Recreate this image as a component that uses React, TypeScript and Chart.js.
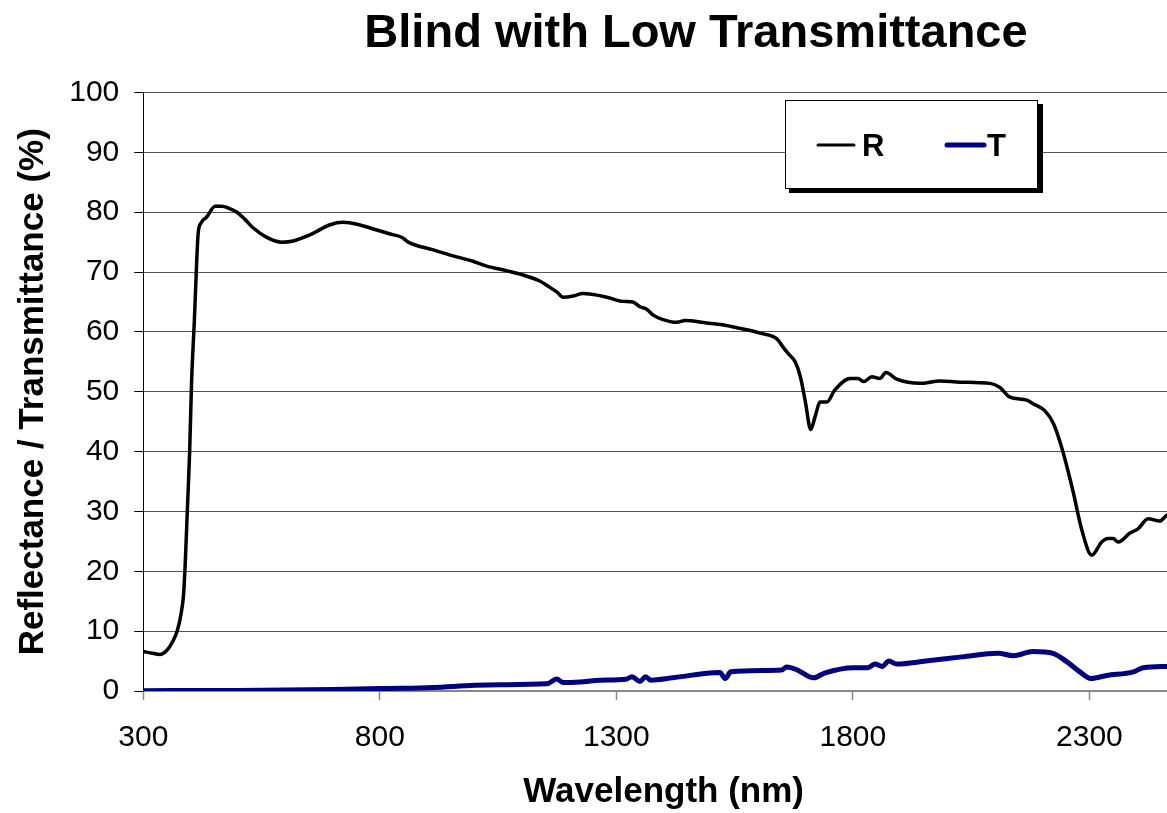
import React, { useEffect, useRef } from 'react';
import { Chart, registerables } from 'chart.js';

Chart.register(...registerables);

const chartTitle = 'Blind with Low Transmittance';
const xAxisTitle = 'Wavelength (nm)';
const yAxisTitle = 'Reflectance / Transmittance (%)';
const seriesNames = ['R', 'T'];
const xTicks = [300, 800, 1300, 1800, 2300];
const yTicks = [0, 10, 20, 30, 40, 50, 60, 70, 80, 90, 100];

const rWavelength = [
  300, 320, 335, 350, 361, 372, 380, 385, 389, 393, 398, 402, 408, 413, 416, 422, 434, 452, 466, 480,
  498, 515, 532, 561, 593, 617, 652, 695, 722, 752, 786, 820, 849, 855, 860, 913, 955, 997, 1026, 1069,
  1103, 1138, 1160, 1174, 1187, 1209, 1229, 1280, 1314, 1335, 1350, 1364, 1378, 1397, 1428, 1445, 1491,
  1524, 1561, 1604, 1640, 1652, 1663, 1678, 1689, 1699, 1711, 1720, 1731, 1745, 1762, 1794, 1811, 1823,
  1840, 1857, 1870, 1893, 1942, 1984, 2027, 2090, 2111, 2132, 2168, 2181, 2206, 2224, 2241, 2265, 2284,
  2305, 2326, 2339, 2350, 2361, 2386, 2403, 2424, 2449, 2465, 2500,
];
const rValues = [
  6.6, 6.3, 6.1, 6.8, 8.1, 10.1, 13.0, 16.0, 22, 30, 40, 51.5, 62, 72, 76.5, 78.2, 79.2, 81.0, 81.0, 80.7,
  80.0, 78.8, 77.4, 75.8, 75.0, 75.2, 76.2, 77.9, 78.3, 78.0, 77.2, 76.4, 75.7, 75.3, 75.0, 73.7, 72.7, 71.8, 71.0, 70.2,
  69.5, 68.5, 67.4, 66.7, 65.8, 66.0, 66.4, 65.8, 65.1, 65.0, 64.2, 63.8, 62.8, 62.1, 61.6, 61.9, 61.5,
  61.2, 60.6, 59.8, 58.8, 57.5, 56.4, 55.0, 52.5, 48.6, 43.7, 45.8, 48.3, 48.3, 50.3, 52.2, 52.2, 51.7,
  52.5, 52.2, 53.2, 52.1, 51.4, 51.8, 51.6, 51.4, 50.7, 49.1, 48.6, 48.0, 46.8, 44.7, 40.8, 33.5, 26.9,
  22.7, 24.9, 25.5, 25.5, 24.9, 26.4, 27.1, 28.8, 28.4, 29.4, 29.6,
];

const tWavelength = [
  300, 500, 600, 700, 800, 843, 913, 1000, 1054, 1153, 1174, 1188, 1223, 1266, 1320, 1333, 1350, 1362,
  1373, 1419, 1519, 1530, 1542, 1649, 1660, 1683, 1717, 1740, 1801, 1832, 1847, 1862, 1876, 1893, 1954,
  2031, 2107, 2139, 2181, 2223, 2252, 2280, 2303, 2337, 2393, 2414, 2465, 2500,
];
const tValues = [
  0.05, 0.1, 0.15, 0.25, 0.4, 0.45, 0.6, 0.95, 1.05, 1.2, 2.0, 1.4, 1.5, 1.8, 1.95, 2.4, 1.6, 2.4,
  1.8, 2.2, 3.1, 2.1, 3.2, 3.5, 4.0, 3.5, 2.2, 3.0, 3.9, 3.9, 4.5, 4.1, 5.0, 4.5, 5.0,
  5.7, 6.3, 5.9, 6.6, 6.3, 4.9, 3.2, 2.1, 2.6, 3.2, 3.9, 4.1, 4.2,
];

const FONT = '"Liberation Sans", Arial, Helvetica, sans-serif';
const rColor = '#000000';
const tColor = '#000080';

const decorPlugin = {
  id: 'decor',
  afterDraw(chart: any) {
    const ctx = chart.ctx as CanvasRenderingContext2D;
    ctx.save();
    // Title
    ctx.fillStyle = '#000';
    ctx.font = `bold 47px ${FONT}`;
    ctx.textAlign = 'center';
    ctx.textBaseline = 'alphabetic';
    ctx.fillText(chartTitle, 696, 47);

    // Legend box with shadow
    ctx.fillStyle = '#000';
    ctx.fillRect(789, 104, 254, 89);
    ctx.fillStyle = '#fff';
    ctx.fillRect(785, 100, 253, 88);
    ctx.strokeStyle = '#000';
    ctx.lineWidth = 1;
    ctx.strokeRect(785.5, 100.5, 252, 88);

    ctx.lineCap = 'round';
    ctx.strokeStyle = rColor;
    ctx.lineWidth = 3;
    ctx.beginPath();
    ctx.moveTo(818, 145);
    ctx.lineTo(854, 145);
    ctx.stroke();
    ctx.strokeStyle = tColor;
    ctx.lineWidth = 5;
    ctx.beginPath();
    ctx.moveTo(947, 145);
    ctx.lineTo(984, 145);
    ctx.stroke();

    ctx.fillStyle = '#000';
    ctx.font = `bold 31px ${FONT}`;
    ctx.textAlign = 'left';
    ctx.fillText(seriesNames[0], 862, 156);
    ctx.fillText(seriesNames[1], 987, 156);
    ctx.restore();
  },
};

export default function App() {
  const canvasRef = useRef<HTMLCanvasElement | null>(null);

  useEffect(() => {
    if (!canvasRef.current) return;
    const chart = new Chart(canvasRef.current, {
      type: 'line',
      data: {
        datasets: [
          {
            label: seriesNames[0],
            data: rWavelength.map((x, i) => ({ x, y: rValues[i] })),
            borderColor: rColor,
            borderWidth: 3.5,
            pointRadius: 0,
            cubicInterpolationMode: 'monotone',
            borderJoinStyle: 'round',
          },
          {
            label: seriesNames[1],
            data: tWavelength.map((x, i) => ({ x, y: tValues[i] })),
            borderColor: tColor,
            borderWidth: 5,
            pointRadius: 0,
            cubicInterpolationMode: 'monotone',
            borderJoinStyle: 'round',
          },
        ],
      },
      options: {
        responsive: false,
        animation: false,
        layout: { padding: { top: 92.5, left: 0, right: 6, bottom: 0 } },
        plugins: {
          legend: { display: false },
          title: { display: false },
          tooltip: { enabled: false },
        },
        scales: {
          x: {
            type: 'linear',
            min: 300,
            max: 2500,
            afterBuildTicks: (scale: any) => {
              scale.ticks = xTicks.map((v) => ({ value: v }));
            },
            afterFit: (scale: any) => {
              scale.height = 122;
            },
            grid: {
              drawOnChartArea: false,
              drawTicks: true,
              tickLength: 9,
              tickColor: '#888',
              tickWidth: 1.5,
            },
            border: { color: '#888', width: 1.5 },
            ticks: {
              color: '#000',
              font: { family: FONT, size: 30 },
              padding: 20,
              maxRotation: 0,
              callback: (v: any) => String(v),
            },
            title: {
              display: true,
              text: xAxisTitle,
              color: '#000',
              font: { family: FONT, size: 35, weight: 'bold' },
              padding: { top: 0, bottom: 0 },
            },
          },
          y: {
            type: 'linear',
            min: 0,
            max: 100,
            afterBuildTicks: (scale: any) => {
              scale.ticks = yTicks.map((v) => ({ value: v }));
            },
            afterFit: (scale: any) => {
              scale.width = 143.3;
            },
            grid: {
              color: (c: any) => (c.tick && c.tick.value === 0 ? '#888' : '#555'),
              lineWidth: 1,
              drawTicks: true,
              tickLength: 9,
              tickColor: '#000',
            },
            border: { color: '#000', width: 1 },
            ticks: {
              color: '#000',
              font: { family: FONT, size: 30 },
              padding: 15,
              callback: (v: any) => String(v),
            },
            title: {
              display: true,
              text: yAxisTitle,
              color: '#000',
              font: { family: FONT, size: 35, weight: 'bold' },
              padding: { top: 12, bottom: 0 },
            },
          },
        },
      },
      plugins: [decorPlugin],
    } as any);
    return () => chart.destroy();
  }, []);

  return (
    <div
      style={{
        position: 'fixed',
        left: 0,
        top: 0,
        width: 1167,
        height: 813,
        overflow: 'hidden',
        background: '#fff',
      }}
    >
      <canvas ref={canvasRef} width={1190} height={813} style={{ display: 'block' }} />
    </div>
  );
}
